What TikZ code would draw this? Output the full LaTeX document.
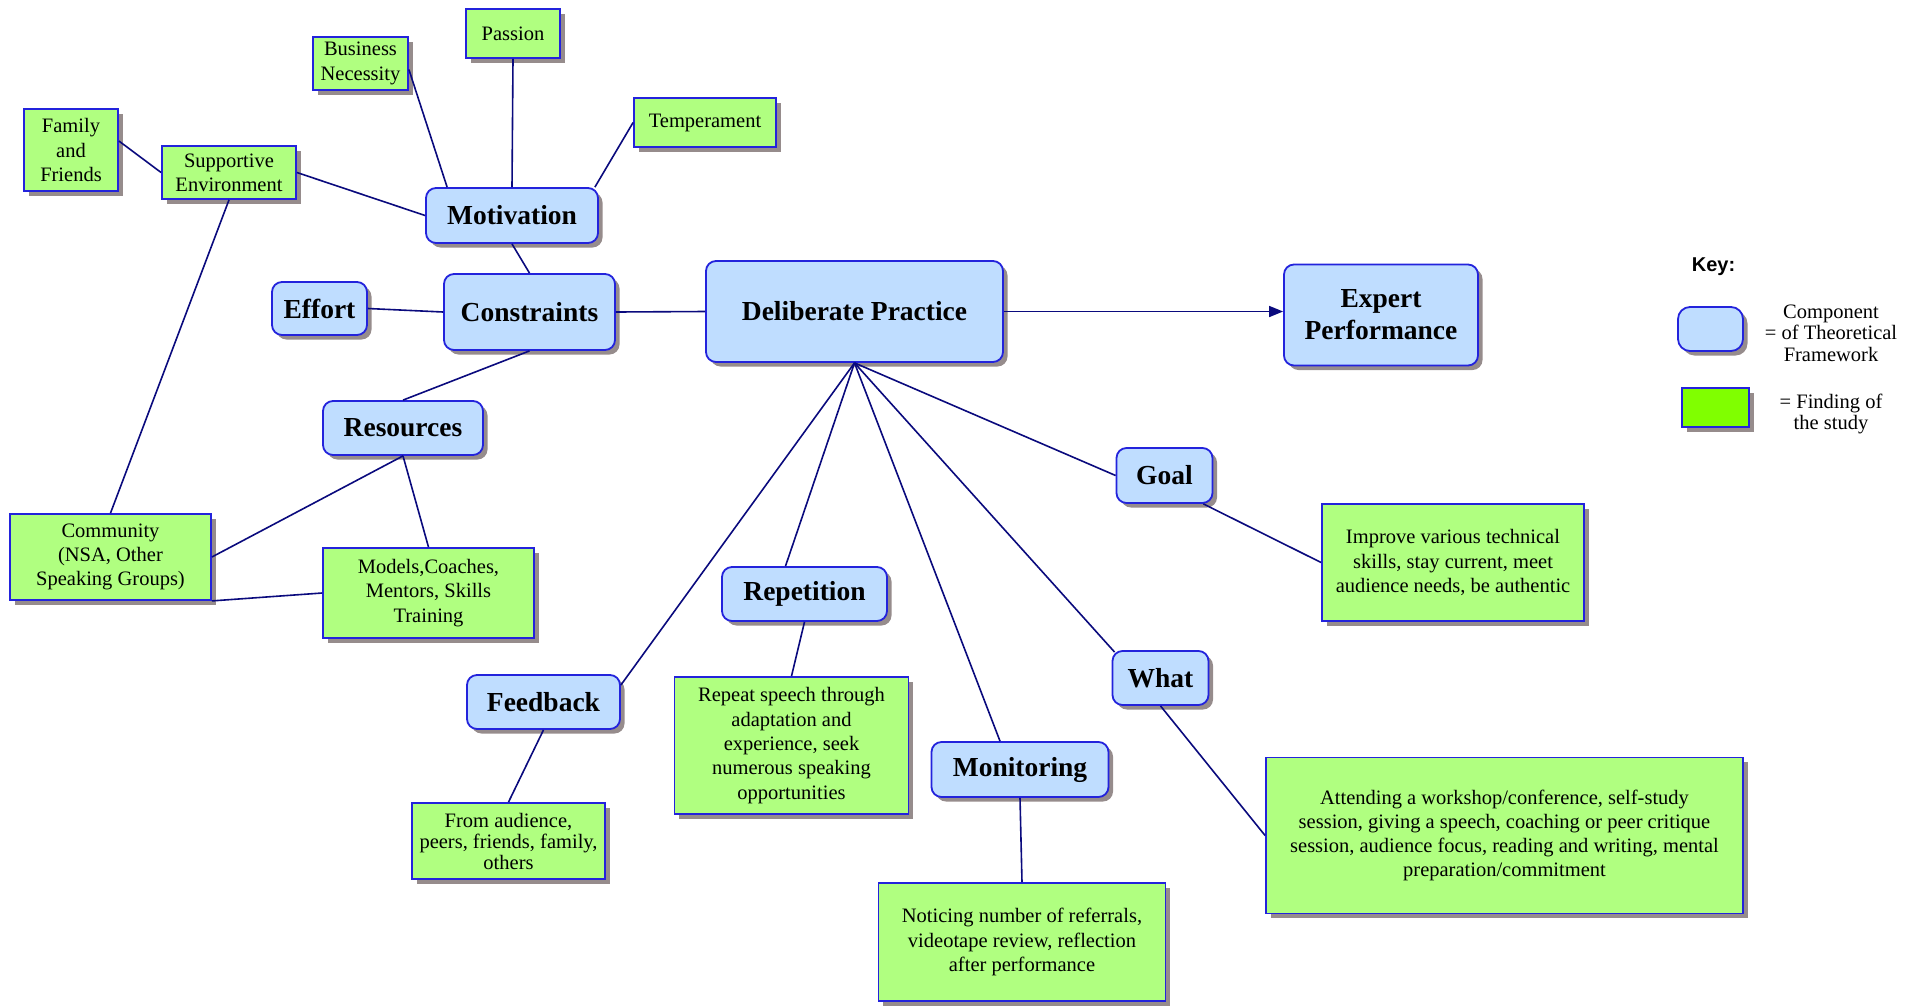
\documentclass[tikz,border=0pt]{standalone}
\usepackage{fontspec}
\setmainfont{Liberation Serif}
\newfontfamily\keyfont{Liberation Sans}
\usetikzlibrary{shadows,arrows.meta}

\definecolor{compblue}{RGB}{191,221,255}
\definecolor{findgreen}{RGB}{176,255,128}
\definecolor{keygreen}{RGB}{128,255,0}
\definecolor{edgeblue}{RGB}{35,35,220}
\definecolor{linknavy}{RGB}{10,10,125}
\definecolor{shadowgrey}{RGB}{150,140,140}

\tikzset{
  comp/.style={draw=edgeblue,fill=compblue,line width=1.8pt,rounded corners=10pt,
    align=center,inner sep=0pt,font=\fontsize{27.5}{32}\selectfont\bfseries,
    drop shadow={shadow xshift=4.5pt,shadow yshift=-4.5pt,fill=shadowgrey,opacity=1}},
  find/.style={draw=edgeblue,fill=findgreen,line width=1.8pt,
    align=center,inner sep=0pt,font=\fontsize{20.5}{24.3}\selectfont,
    drop shadow={shadow xshift=4.5pt,shadow yshift=-4.5pt,fill=shadowgrey,opacity=1}},
  link/.style={draw=linknavy,line width=1.6pt},
}

\begin{document}
\begin{tikzpicture}[x=1pt,y=-1pt]
 % \draw[help lines,step=100] (0,0) grid (1923,1005);
  \useasboundingbox (0,0) rectangle (1923,1005);
  \node[comp,minimum width=297pt,minimum height=101pt] (dp) at (854.5,311.5) {Deliberate Practice};
  \node[comp,minimum width=194pt,minimum height=101pt] (expert) at (1381,315) {Expert\\Performance};
  \node[comp,minimum width=172pt,minimum height=55pt] (motiv) at (512,215.5) {Motivation};
  \node[comp,minimum width=95pt,minimum height=53pt] (effort) at (319.5,308.5) {Effort};
  \node[comp,minimum width=171pt,minimum height=76pt] (constr) at (529.5,312) {Constraints};
  \node[comp,minimum width=160pt,minimum height=54pt] (resour) at (403,428) {Resources};
  \node[comp,minimum width=96pt,minimum height=55pt] (goal) at (1164.5,475.5) {Goal};
  \node[comp,minimum width=96pt,minimum height=54pt] (what) at (1160.5,678) {What};
  \node[comp,minimum width=165pt,minimum height=54pt] (repet) at (804.5,594) {Repetition};
  \node[comp,minimum width=153pt,minimum height=54pt] (feedb) at (543.5,702) {Feedback};
  \node[comp,minimum width=177pt,minimum height=55pt] (monit) at (1020,769.5) {Monitoring};

  \node[find,minimum width=94pt,minimum height=49pt] (passion) at (513,33.5) {Passion};
  \node[find,minimum width=95pt,minimum height=53pt] (business) at (360.5,63.5) {Business\\Necessity};
  \node[find,minimum width=142pt,minimum height=49pt] (temper) at (705,122.5) {Temperament};
  \node[find,minimum width=94pt,minimum height=82pt] (family) at (71,150) {Family\\and\\Friends};
  \node[find,minimum width=134pt,minimum height=53pt] (support) at (229,172.5) {Supportive\\Environment};
  \node[find,minimum width=201pt,minimum height=86pt] (commun) at (110.5,557) {Community\\(NSA, Other\\Speaking Groups)};
  \node[find,minimum width=211pt,minimum height=90pt] (models) at (428.5,593) {Models,Coaches,\\Mentors, Skills\\Training};
  \node[find,minimum width=262pt,minimum height=117pt] (improve) at (1453,562.5) {Improve various technical\\skills, stay current, meet\\audience needs, be authentic};
  \node[find,minimum width=477pt,minimum height=156pt] (attend) at (1504.5,835.5) {Attending a workshop/conference, self-study\\session, giving a speech, coaching or peer critique\\session, audience focus, reading and writing, mental\\preparation/commitment};
  \node[find,minimum width=234pt,minimum height=137pt] (repeat) at (791.5,745.5) {Repeat speech through\\adaptation and\\experience, seek\\numerous speaking\\opportunities};
  \node[find,minimum width=193pt,minimum height=76pt,font=\fontsize{20.5}{21}\selectfont] (fromaud) at (508.5,841) {From audience,\\peers, friends, family,\\others};
  \node[find,minimum width=287pt,minimum height=118pt] (notic) at (1022,942) {Noticing number of referrals,\\videotape review, reflection\\after performance};

  % key
  \node[font=\keyfont\fontsize{20}{22}\selectfont\bfseries,anchor=base] (keyttl) at (1713.5,271.5) {Key:};
  \node[comp,minimum width=65pt,minimum height=44pt,rounded corners=12pt] (keycomp) at (1710.5,329) {};
  \node[font=\fontsize{20.5}{21.5}\selectfont,align=center] (keycomptxt) at (1831,333) {Component\\= of Theoretical\\Framework};
  \node[find,fill=keygreen,line width=1.3pt,minimum width=67pt,minimum height=39pt] (keyfind) at (1715.5,407.5) {};
  \node[font=\fontsize{20.5}{21.5}\selectfont,align=center] (keyfindtxt) at (1831,414) {= Finding of\\the study};

  \draw[link] (constr.east) -- (dp.west);
  \draw[link,-{Triangle[length=14pt,width=11pt]}] (dp.east) -- (dp.east -| expert.west);
  \draw[link] (effort.east) -- (constr.west);
  \draw[link] (motiv.south) -- (constr.north);
  \draw[link] (constr.south) -- (resour.north);
  \draw[link] (motiv.north) -- (passion.south);
  \draw[link] ([xshift=22pt]motiv.north west) -- ([yshift=-6pt]business.east);
  \draw[link] ([xshift=-4pt]motiv.north east) -- (temper.west);
  \draw[link] (motiv.west) -- (support.east);
  \draw[link] (support.west) -- ([yshift=9pt]family.east);
  \draw[link] (support.south) -- (commun.north);
  \draw[link] (resour.south) -- (commun.east);
  \draw[link] (resour.south) -- (models.north);
  \draw[link] (commun.south east) -- (models.west);
  \draw[link] (dp.south) -- (goal.west);
  \draw[link] (dp.south) -- ([xshift=3pt,yshift=-2pt]what.north west);
  \draw[link] (dp.south) -- ([xshift=-20pt]monit.north);
  \draw[link] (dp.south) -- ([xshift=-19pt]repet.north);
  \draw[link] (dp.south) -- ([yshift=17pt]feedb.east);
  \draw[link] ([xshift=-10pt]goal.south east) -- (improve.west);
  \draw[link] (what.south) -- (attend.west);
  \draw[link] (repet.south) -- (repeat.north);
  \draw[link] (feedb.south) -- (fromaud.north);
  \draw[link] (monit.south) -- (notic.north);
\end{tikzpicture}
\end{document}
